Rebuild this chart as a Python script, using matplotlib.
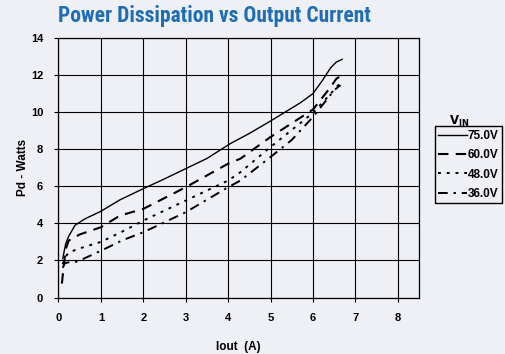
import numpy as np
import matplotlib
matplotlib.use('Agg')
import matplotlib.pyplot as plt

# readings, Iout (A) vs Pd (W)
x75 = [0.1, 0.17, 0.24, 0.39, 0.63, 1.0, 1.45, 2.0, 2.5, 3.0, 3.5, 4.05, 4.5, 5.0, 5.7, 6.0, 6.22, 6.42, 6.55, 6.69]
y75 = [2.1, 2.9, 3.3, 3.9, 4.25, 4.65, 5.27, 5.87, 6.4, 6.95, 7.5, 8.3, 8.85, 9.52, 10.5, 11.0, 11.7, 12.4, 12.7, 12.85]

x60 = [0.08, 0.12, 0.17, 0.24, 0.5, 1.0, 1.45, 2.0, 3.0, 4.0, 4.29, 5.0, 6.0, 6.42, 6.55, 6.69]
y60 = [0.75, 1.6, 2.6, 3.07, 3.4, 3.79, 4.42, 4.78, 5.95, 7.22, 7.49, 8.66, 10.14, 11.36, 11.8, 12.0]

x48 = [0.1, 0.17, 0.24, 0.5, 1.0, 1.5, 2.0, 3.0, 4.0, 4.29, 5.0, 6.0, 6.42, 6.69]
y48 = [1.8, 2.2, 2.43, 2.65, 3.0, 3.55, 4.15, 5.23, 6.31, 6.76, 8.12, 9.96, 11.0, 11.7]

x36 = [0.1, 0.15, 0.24, 0.39, 0.6, 1.0, 1.5, 2.0, 3.0, 4.0, 4.29, 5.0, 5.5, 6.0, 6.5, 6.65]
y36 = [1.6, 1.85, 1.9, 1.9, 2.1, 2.52, 3.08, 3.52, 4.6, 5.95, 6.31, 7.58, 8.5, 9.74, 11.18, 11.46]

labels = ['75.0V', '60.0V', '48.0V', '36.0V']
xticks = [0, 1, 2, 3, 4, 5, 6, 7, 8]
yticks = [0, 2, 4, 6, 8, 10, 12, 14]

bg = '#eef0f5'
plt.rcParams['font.family'] = ['Liberation Sans', 'DejaVu Sans']

fig = plt.figure(figsize=(5.05, 3.54), dpi=100, facecolor=bg)
ax = fig.add_axes([0.1158, 0.1596, 0.7139, 0.7331], facecolor=bg)

ax.plot(x75, y75, c='k', lw=1.0, ls='-', label=labels[0])
ax.plot(x60, y60, c='k', lw=1.5, ls=(0, (5, 3.5)), label=labels[1])
ax.plot(x48, y48, c='k', lw=1.4, ls=(0, (1.5, 3)), label=labels[2])
ax.plot(x36, y36, c='k', lw=1.4, ls=(0, (5, 3, 1.2, 3)), label=labels[3])

ax.set_xlim(0, 8.5)
ax.set_ylim(0, 14)
ax.set_xticks(xticks)
ax.set_yticks(yticks)
ax.set_xticklabels([str(v) for v in xticks], fontsize=8, fontweight='bold')
ax.set_yticklabels([str(v) for v in yticks], fontsize=8, fontweight='bold')
ax.tick_params(direction='out', length=3, width=0.8, pad=8)
ax.grid(True, color='k', lw=0.8)
for s in ax.spines.values():
    s.set_linewidth(0.9)

ax.set_xlabel('Iout  (A)', fontsize=8.5, fontweight='bold', labelpad=13)
ax.set_ylabel('Pd - Watts', fontsize=8.5, fontweight='bold', labelpad=1)

fig.text(0.115, 0.955, 'Power Dissipation vs Output Current', color='#1f6db5',
         fontsize=15.5, fontweight='bold', family=['Roboto Condensed', 'DejaVu Sans'],
         va='center', ha='left')

fig.text(0.91, 0.657, r'$\mathbf{V_{IN}}$', fontsize=8.5, ha='center', va='center')
leg = fig.legend(loc='upper left', bbox_to_anchor=(0.861, 0.643), fancybox=False,
                 facecolor=bg, edgecolor='k', framealpha=1, handlelength=2.4,
                 handletextpad=0.1, borderpad=0.3, labelspacing=0.62, borderaxespad=0,
                 prop={'weight': 'bold', 'size': 8.5})
leg.get_frame().set_linewidth(1.0)

fig.savefig('out.png', dpi=100, facecolor=bg)
